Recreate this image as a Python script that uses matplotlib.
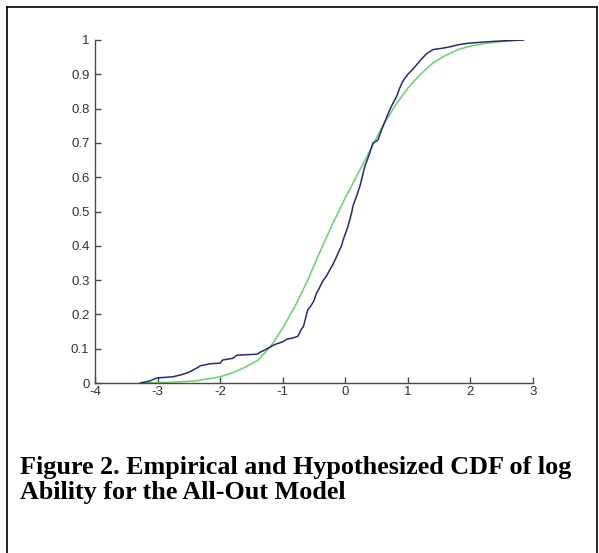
import matplotlib
matplotlib.use('Agg')
import matplotlib.pyplot as plt
from matplotlib.lines import Line2D

# empirical CDF (blue)
emp_x = [-3.28, -3.2, -3.12, -3.05, -3.0, -2.76, -2.62, -2.52, -2.43, -2.36, -2.32, -2.16,
         -2.0, -1.96, -1.8, -1.73, -1.41, -1.36, -1.3, -1.2, -1.15, -1.1, -1.0, -0.93,
         -0.84, -0.76, -0.73, -0.7, -0.67, -0.64, -0.6, -0.55, -0.5, -0.46, -0.42, -0.38,
         -0.35, -0.3, -0.25, -0.2, -0.14, -0.1, -0.06, -0.035, 0.0, 0.04, 0.07, 0.1,
         0.12, 0.15, 0.19, 0.23, 0.27, 0.31, 0.35, 0.39, 0.44, 0.52, 0.56, 0.6,
         0.65, 0.71, 0.76, 0.82, 0.87, 0.92, 1.0, 1.08, 1.15, 1.22, 1.3, 1.4,
         1.55, 1.67, 1.8, 1.94, 2.2, 2.47, 2.7, 2.85]
emp_y = [0.0, 0.003, 0.006, 0.012, 0.015, 0.018, 0.024, 0.03, 0.038, 0.045, 0.05, 0.056,
         0.058, 0.067, 0.072, 0.081, 0.084, 0.09, 0.095, 0.105, 0.11, 0.114, 0.12, 0.128,
         0.131, 0.136, 0.146, 0.158, 0.164, 0.185, 0.213, 0.225, 0.24, 0.262, 0.275, 0.29,
         0.3, 0.312, 0.329, 0.345, 0.368, 0.385, 0.4, 0.417, 0.435, 0.455, 0.475, 0.495,
         0.514, 0.53, 0.55, 0.572, 0.6, 0.631, 0.65, 0.67, 0.699, 0.708, 0.728, 0.747,
         0.77, 0.796, 0.815, 0.835, 0.86, 0.88, 0.9, 0.915, 0.93, 0.945, 0.96, 0.972,
         0.976, 0.98, 0.986, 0.99, 0.994, 0.997, 0.999, 1.0]

# hypothesized CDF (green)
hyp_x = [-3.2, -2.8, -2.4, -2.0, -1.8, -1.6, -1.4, -1.2, -1.0, -0.8, -0.6, -0.4, -0.2,
         0.0, 0.2, 0.4, 0.6, 0.8, 1.0, 1.2, 1.4, 1.6, 1.8, 2.0, 2.2, 2.4, 2.6, 2.84]
hyp_y = [0.0, 0.002, 0.006, 0.018, 0.03, 0.046, 0.066, 0.105, 0.16, 0.225, 0.3, 0.385, 0.465,
         0.54, 0.61, 0.68, 0.75, 0.81, 0.86, 0.9, 0.933, 0.955, 0.972, 0.982, 0.989, 0.994,
         0.997, 1.0]

x_ticks = [-4, -3, -2, -1, 0, 1, 2, 3]
y_ticks = [0, 0.1, 0.2, 0.3, 0.4, 0.5, 0.6, 0.7, 0.8, 0.9, 1]
y_labels = ['0', '0.1', '0.2', '0.3', '0.4', '0.5', '0.6', '0.7', '0.8', '0.9', '1']
caption = ['Figure 2. Empirical and Hypothesized CDF of log',
           'Ability for the All-Out Model']

W, H = 599, 553
fig = plt.figure(figsize=(W / 100, H / 100), dpi=100)
ax = fig.add_axes([95 / W, (H - 383) / H, (533 - 95) / W, (383 - 40) / H])

ax.plot(hyp_x, hyp_y, color='#66d466', lw=1.1)
ax.plot(emp_x, emp_y, color='#27297e', lw=1.1)

ax.set_xlim(-4, 3)
ax.set_ylim(0, 1)
ax.set_xticks(x_ticks)
ax.set_xticklabels([str(t) for t in x_ticks])
ax.set_yticks(y_ticks)
ax.set_yticklabels(y_labels)
for s in ['top', 'right']:
    ax.spines[s].set_visible(False)
for s in ['left', 'bottom']:
    ax.spines[s].set_color('#4a4a4a')
    ax.spines[s].set_linewidth(1.0)
ax.tick_params(direction='in', length=4, width=1.0, color='#4a4a4a',
               labelcolor='#333333', labelsize=9.5)
ax.tick_params(axis='x', pad=2)
ax.tick_params(axis='y', pad=4)
for lab in ax.get_xticklabels() + ax.get_yticklabels():
    lab.set_family('Liberation Sans')

# caption under the chart
fig.text(20 / W, (H - 474) / H, caption[0], family='Liberation Serif', weight='bold',
         fontsize=18.8, va='baseline', ha='left')
fig.text(20 / W, (H - 499) / H, caption[1], family='Liberation Serif', weight='bold',
         fontsize=18.8, va='baseline', ha='left')

# page cell border (top, left, right)
fig.add_artist(Line2D([6.5 / W, 6.5 / W], [0, 1 - 6.5 / H], color='black', lw=1.2))
fig.add_artist(Line2D([597 / W, 597 / W], [0, 1 - 6.5 / H], color='black', lw=1.2))
fig.add_artist(Line2D([6.5 / W, 597 / W], [1 - 6.5 / H, 1 - 6.5 / H], color='black', lw=1.2))

fig.savefig('out.png', dpi=100)
